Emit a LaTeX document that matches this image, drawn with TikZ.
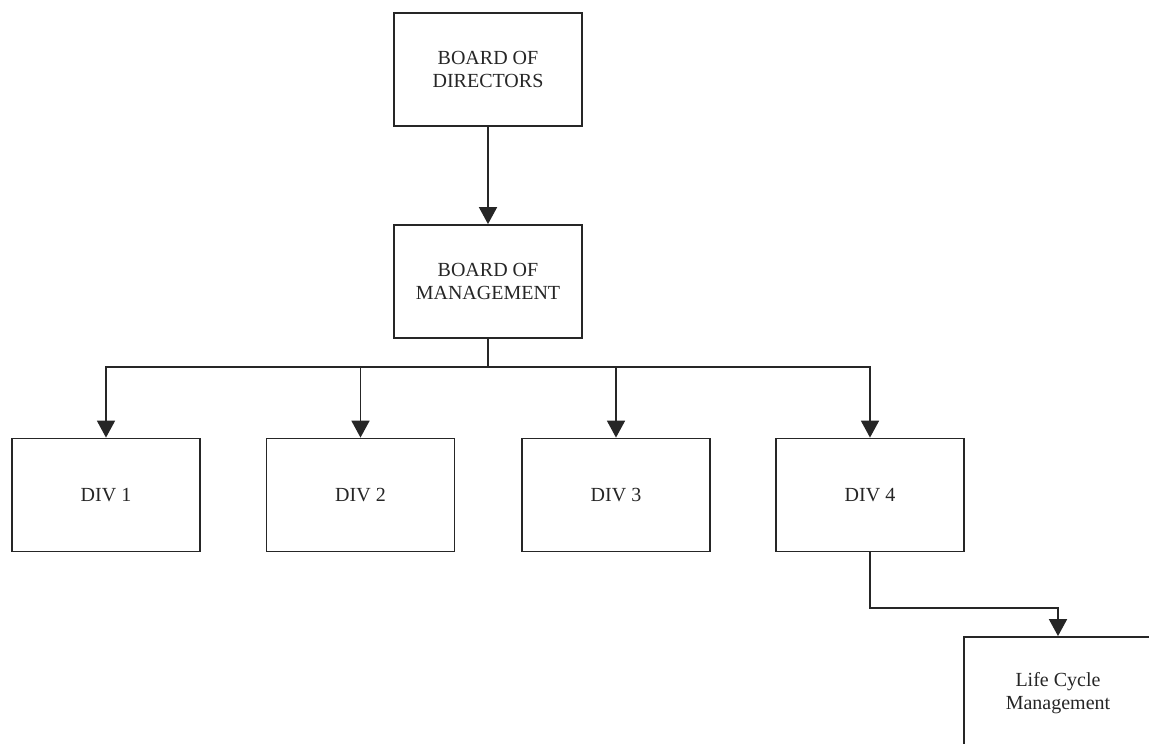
\documentclass[tikz,border=0pt]{standalone}
\usepackage{fontspec}
\setmainfont{Liberation Serif}
\usetikzlibrary{positioning}
\usetikzlibrary{arrows.meta}

\tikzset{
  orgbox/.style={draw=black!85, line width=1.8pt, fill=white,
    minimum width=188pt, minimum height=113pt, align=center,
    inner sep=0pt, text=black!85, font=\fontsize{20}{23}\selectfont},
  link/.style={draw=black!85, line width=1.8pt,
    -{Triangle[width=18pt,length=17pt]}},
}

\begin{document}
\begin{tikzpicture}[x=1pt, y=-1pt]
\useasboundingbox (0,0) rectangle (1149,744);

\node[orgbox] (bod) at (488,69.5) {BOARD OF\\DIRECTORS};
\node[orgbox] (bom) at (488,281.5) {BOARD OF\\MANAGEMENT};

\node[orgbox] (div1) at (106,495) {DIV 1};
\node[orgbox] (div2) at (360.5,495) {DIV 2};
\node[orgbox] (div3) at (616,495) {DIV 3};
\node[orgbox] (div4) at (870,495) {DIV 4};

\node[orgbox] (lcm) at (1058,693.5) {Life Cycle\\Management};

\coordinate (bus) at (488,367);
\coordinate (turn) at (870,608);

\draw[link] (bod) -- (bom);
\draw[draw=black!85, line width=1.8pt] (bom) -- (bus);
\draw[link] (bus) -| (div1);
\draw[link] (bus) -| (div2);
\draw[link] (bus) -| (div3);
\draw[link] (bus) -| (div4);
\draw[link] (div4) -- (turn) -| (lcm);

\end{tikzpicture}
\end{document}
